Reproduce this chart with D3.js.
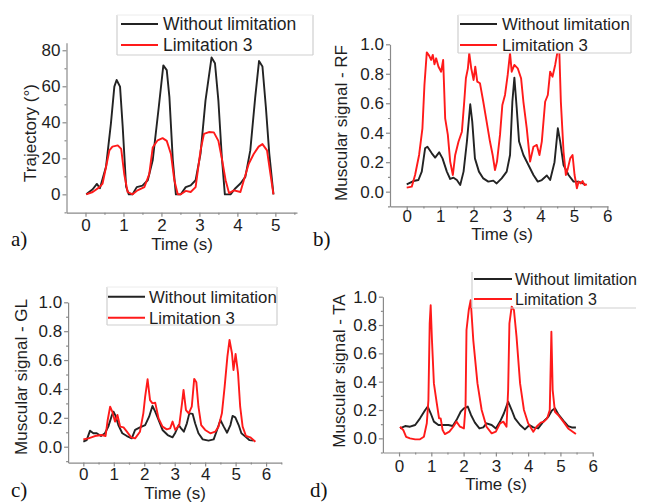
<!DOCTYPE html>
<html><head><meta charset="utf-8">
<script src="https://cdn.jsdelivr.net/npm/d3@7"></script>
<style>
body{margin:0;background:#fff;}
svg{display:block;font-family:Arial,"Liberation Sans",sans-serif;}
</style></head>
<body>
<svg id="chart" width="646" height="502"></svg>
<script>
// ---------- DATA ----------
const seriesNames = ["Without limitation", "Limitation 3"];

// Panel a: trajectory (deg)
const aTimeBlack = [0.02,0.19,0.30,0.38,0.54,0.67,0.76,0.82,0.91,0.98,1.07,1.14,1.24,1.35,1.50,1.64,1.77,1.93,2.05,2.14,2.21,2.30,2.38,2.51,2.64,2.77,2.90,3.03,3.16,3.32,3.41,3.50,3.59,3.67,3.82,3.95,4.08,4.21,4.34,4.47,4.57,4.66,4.75,4.84,4.95];
const aBlack     = [0,2.8,5.8,3.4,15.3,39.4,59.8,63.5,59.8,37.5,4.2,0,0,4,4.8,7.8,18.9,48.5,71.6,69,54,18.9,0,0,4,5,7.8,22.6,52,76,72.8,52,20.7,0,0,3.4,6,9.7,24.4,54,74,71,48.5,22.6,0];
const aTimeRed   = [0.02,0.19,0.37,0.45,0.54,0.63,0.71,0.85,0.94,1.02,1.11,1.24,1.37,1.55,1.68,1.77,1.90,2.03,2.14,2.25,2.34,2.43,2.51,2.64,2.77,2.90,3.03,3.12,3.25,3.38,3.50,3.60,3.69,3.78,3.91,4.08,4.17,4.30,4.43,4.56,4.66,4.78,4.87,4.95];
const aRed       = [0,1.3,4,6,15,24.4,26.5,27.2,25.2,11.3,1.3,0,2.2,4,11.3,26,30,31.2,29.7,22.4,7.8,0,0,1.9,1.3,4,24.4,33.6,34.6,34.4,29.7,18.9,7.8,0.7,2.2,1.3,7.8,17,22.4,26.5,27.9,24.4,11.3,0];

// Panel b: RF muscular signal
const bTimeBlack = [0.0,0.2,0.35,0.45,0.55,0.62,0.75,0.85,0.97,1.07,1.20,1.30,1.40,1.50,1.60,1.70,1.80,1.90,1.96,2.04,2.16,2.29,2.44,2.59,2.69,2.84,2.99,3.09,3.16,3.22,3.29,3.36,3.49,3.64,3.79,3.92,4.04,4.19,4.29,4.42,4.52,4.59,4.69,4.84,4.99,5.14,5.34];
const bBlack     = [0.05,0.072,0.079,0.136,0.294,0.305,0.26,0.231,0.267,0.226,0.136,0.086,0.095,0.079,0.045,0.136,0.34,0.593,0.475,0.226,0.136,0.09,0.068,0.075,0.056,0.09,0.136,0.249,0.61,0.774,0.566,0.34,0.249,0.181,0.113,0.068,0.079,0.11,0.079,0.2,0.43,0.34,0.181,0.113,0.068,0.068,0.05];
const bTimeRed   = [0.0,0.15,0.25,0.37,0.47,0.53,0.60,0.67,0.73,0.78,0.83,0.88,0.95,1.03,1.09,1.15,1.23,1.30,1.38,1.45,1.55,1.65,1.72,1.77,1.83,1.87,1.93,2.0,2.05,2.11,2.19,2.29,2.39,2.49,2.57,2.64,2.70,2.79,2.86,2.94,3.02,3.09,3.14,3.22,3.32,3.42,3.49,3.59,3.69,3.79,3.89,3.97,4.04,4.14,4.22,4.29,4.36,4.44,4.51,4.56,4.61,4.69,4.76,4.82,4.89,4.96,5.02,5.09,5.14,5.21,5.26,5.32,5.39];
const bRed       = [0.027,0.034,0.113,0.249,0.43,0.724,0.945,0.923,0.894,0.928,0.864,0.905,0.848,0.814,0.894,0.498,0.385,0.204,0.113,0.249,0.34,0.407,0.61,0.77,0.837,0.94,0.837,0.758,0.848,0.747,0.736,0.61,0.475,0.34,0.249,0.147,0.204,0.385,0.588,0.656,0.792,0.94,0.814,0.86,0.837,0.77,0.61,0.43,0.204,0.305,0.317,0.249,0.34,0.61,0.656,0.814,0.78,0.86,0.95,0.98,0.61,0.272,0.113,0.158,0.226,0.249,0.113,0.023,0.068,0.056,0.072,0.045,0.05];

// Panel c: GL muscular signal
const cTimeBlack = [0.0,0.11,0.22,0.33,0.44,0.58,0.71,0.82,0.93,0.99,1.06,1.15,1.28,1.43,1.59,1.70,1.86,2.03,2.16,2.27,2.36,2.47,2.60,2.77,2.93,3.02,3.13,3.21,3.30,3.40,3.48,3.59,3.67,3.78,3.92,4.11,4.28,4.39,4.50,4.61,4.72,4.83,4.90,4.99,5.10,5.19,5.32,5.45,5.59];
const cBlack     = [0.035,0.046,0.111,0.093,0.093,0.074,0.093,0.139,0.213,0.243,0.213,0.15,0.093,0.074,0.058,0.116,0.134,0.15,0.208,0.282,0.243,0.185,0.116,0.081,0.065,0.097,0.15,0.127,0.104,0.162,0.231,0.227,0.162,0.093,0.051,0.042,0.051,0.116,0.185,0.139,0.097,0.15,0.213,0.203,0.15,0.093,0.07,0.046,0.042];
const cTimeRed   = [0.0,0.17,0.38,0.60,0.73,0.80,0.88,0.95,1.04,1.12,1.21,1.32,1.43,1.57,1.70,1.86,1.97,2.03,2.11,2.19,2.27,2.36,2.47,2.60,2.74,2.85,2.93,3.02,3.15,3.24,3.29,3.37,3.46,3.56,3.64,3.71,3.78,3.87,4.00,4.17,4.33,4.44,4.55,4.64,4.73,4.80,4.88,4.93,5.00,5.08,5.15,5.23,5.34,5.48,5.65];
const cRed       = [0.051,0.058,0.074,0.081,0.074,0.185,0.277,0.243,0.174,0.22,0.139,0.134,0.104,0.065,0.058,0.104,0.231,0.347,0.467,0.323,0.3,0.305,0.196,0.139,0.12,0.127,0.174,0.116,0.15,0.3,0.393,0.254,0.231,0.277,0.47,0.447,0.277,0.15,0.116,0.093,0.104,0.139,0.231,0.416,0.624,0.739,0.647,0.531,0.642,0.508,0.277,0.139,0.074,0.065,0.035];

// Panel d: TA muscular signal
const dTimeBlack = [0.03,0.19,0.34,0.50,0.65,0.81,0.89,0.98,1.08,1.22,1.37,1.53,1.66,1.78,1.91,2.01,2.13,2.23,2.35,2.49,2.61,2.71,2.87,3.00,3.13,3.25,3.38,3.49,3.59,3.75,3.90,4.04,4.16,4.31,4.47,4.63,4.73,4.83,4.93,5.09,5.24,5.35,5.48];
const dBlack     = [0.07,0.087,0.082,0.094,0.141,0.2,0.224,0.177,0.118,0.094,0.094,0.094,0.087,0.129,0.188,0.212,0.224,0.165,0.111,0.07,0.077,0.106,0.094,0.07,0.118,0.177,0.259,0.2,0.141,0.094,0.063,0.094,0.077,0.07,0.118,0.153,0.195,0.212,0.172,0.125,0.087,0.077,0.077];
const dTimeRed   = [0.03,0.13,0.22,0.34,0.50,0.65,0.77,0.86,0.91,0.95,0.98,1.02,1.08,1.17,1.24,1.29,1.35,1.42,1.56,1.68,1.78,1.89,2.01,2.06,2.09,2.16,2.22,2.30,2.43,2.56,2.71,2.87,3.00,3.13,3.23,3.33,3.38,3.42,3.49,3.56,3.64,3.75,3.87,4.00,4.16,4.26,4.39,4.49,4.59,4.67,4.72,4.76,4.83,4.93,5.09,5.24,5.38,5.48];
const dRed       = [0.082,0.059,0.011,0.0,-0.007,-0.007,0.011,0.106,0.27,0.812,0.94,0.694,0.388,0.247,0.141,0.141,0.059,0.03,0.047,0.082,0.118,0.082,0.07,0.224,0.765,0.906,0.976,0.694,0.388,0.2,0.082,0.035,0.047,0.106,0.118,0.082,0.341,0.812,0.93,0.906,0.718,0.388,0.2,0.106,0.047,0.082,0.111,0.118,0.141,0.2,0.753,0.341,0.188,0.165,0.118,0.07,0.047,0.03];

// Tick labels
const xTicksA = [0,1,2,3,4,5];
const xTicks6 = [0,1,2,3,4,5,6];
const yTicksA = [0,20,40,60,80];
const yTicksSig = [0.0,0.2,0.4,0.6,0.8,1.0];

// ---------- LAYOUT ----------
const COLORS = ["#232323", "#ff1a1a"];
const AXIS_COLOR = "#8a8a8a";
const TEXT_COLOR = "#1e1e1e";

const panels = [
  { tb: aTimeBlack, vb: aBlack, tr: aTimeRed, vr: aRed,
    xd: [-0.5, 5.57], xr: [66.5, 297], yd: [-10.2, 84.2], yr: [212.7, 42.7],
    xt: xTicksA, xm: [0.5,1.5,2.5,3.5,4.5,5.5], yt: yTicksA, ym: [-10,10,30,50,70], yfmt: d3.format("d"),
    ylabel: "Trajectory (°)", ylx: 36, yly: 133, xlx: 182, xly: 250, xtb: 18,
    letter: "a)", lx: 11, ly: 246,
    leg: {x0: 117, x1: 313, y0: 15, y1: 55, r1: 24, r2: 45, s0: 121, s1: 158, tx: 163, fs: 17.5, fill: true, top: true} },
  { tb: bTimeBlack, vb: bBlack, tr: bTimeRed, vr: bRed,
    xd: [-0.5, 6.02], xr: [390, 608], yd: [-0.1, 1.0], yr: [206.4, 44.3],
    xt: xTicks6, xm: [0.5,1.5,2.5,3.5,4.5,5.5], yt: yTicksSig, ym: [-0.1,0.1,0.3,0.5,0.7,0.9], yfmt: d3.format(".1f"),
    ylabel: "Muscular signal - RF", ylx: 347, yly: 123, xlx: 502, xly: 240, xtb: 16,
    letter: "b)", lx: 313, ly: 246,
    leg: {x0: 458, x1: 631, y0: 15, y1: 53, r1: 24, r2: 45, s0: 460, s1: 497, tx: 502, fs: 16.8, fill: true, top: true} },
  { tb: cTimeBlack, vb: cBlack, tr: cTimeRed, vr: cRed,
    xd: [-0.5, 6.5], xr: [68.1, 281.3], yd: [-0.11, 1.0], yr: [462.6, 302.3],
    xt: xTicks6, xm: [0.5,1.5,2.5,3.5,4.5,5.5,6.5], yt: yTicksSig, ym: [-0.1,0.1,0.3,0.5,0.7,0.9], yfmt: d3.format(".1f"),
    ylabel: "Muscular signal - GL", ylx: 27, yly: 377, xlx: 175, xly: 499, xtb: 17,
    letter: "c)", lx: 11, ly: 497,
    leg: {x0: 107, x1: 277, y0: 287, y1: 325, r1: 296.7, r2: 317.7, s0: 108, s1: 145, tx: 149, fs: 16.8, fill: true, top: true} },
  { tb: dTimeBlack, vb: dBlack, tr: dTimeRed, vr: dRed,
    xd: [-0.5, 6.0], xr: [382.9, 592.7], yd: [-0.1, 1.0], yr: [452.5, 296.7],
    xt: xTicks6, xm: [0.5,1.5,2.5,3.5,4.5,5.5], yt: yTicksSig, ym: [-0.1,0.1,0.3,0.5,0.7,0.9], yfmt: d3.format(".1f"),
    ylabel: "Muscular signal - TA", ylx: 345, yly: 371, xlx: 496, xly: 490, xtb: 19,
    letter: "d)", lx: 310, ly: 497,
    leg: {x0: 472, x1: 636, y0: 272, y1: 308, r1: 279, r2: 299, s0: 474, s1: 512, tx: 515, fs: 16, fill: false, top: false} }
];

const svg = d3.select("#chart");

panels.forEach(p => {
  const x = d3.scaleLinear().domain(p.xd).range(p.xr);
  const y = d3.scaleLinear().domain(p.yd).range(p.yr);
  const g = svg.append("g");

  // Axes
  const xAxis = d3.axisBottom(x).tickValues(p.xt).tickSize(4).tickSizeOuter(0).tickFormat(d3.format("d"));
  const yAxis = d3.axisLeft(y).tickValues(p.yt).tickSize(4).tickSizeOuter(0).tickFormat(p.yfmt);
  const gx = g.append("g").attr("transform", `translate(0,${p.yr[0]})`).call(xAxis);
  const gy = g.append("g").attr("transform", `translate(${p.xr[0]},0)`).call(yAxis);
  g.append("g").attr("transform", `translate(0,${p.yr[0]})`)
    .call(d3.axisBottom(x).tickValues(p.xm.filter(v => v <= p.xd[1])).tickSize(2).tickSizeOuter(0).tickFormat(""))
    .select(".domain").remove();
  g.append("g").attr("transform", `translate(${p.xr[0]},0)`)
    .call(d3.axisLeft(y).tickValues(p.ym.filter(v => v >= p.yd[0])).tickSize(2).tickSizeOuter(0).tickFormat(""))
    .select(".domain").remove();
  g.selectAll(".domain").attr("stroke", AXIS_COLOR).attr("stroke-width", 1.2);
  g.selectAll(".tick line").attr("stroke", AXIS_COLOR).attr("stroke-width", 1.2);
  gx.selectAll(".tick text").attr("font-size", 17).attr("fill", TEXT_COLOR).attr("dy", null).attr("y", p.xtb)
    .attr("font-family", "Arial, 'Liberation Sans', sans-serif");
  gy.selectAll(".tick text").attr("font-size", 17).attr("fill", TEXT_COLOR).attr("x", -6)
    .attr("font-family", "Arial, 'Liberation Sans', sans-serif");

  // Lines
  const line = d3.line().x(d => x(d[0])).y(d => y(d[1]));
  const black = p.tb.map((t, i) => [t, p.vb[i]]);
  const red = p.tr.map((t, i) => [t, p.vr[i]]);
  g.append("path").datum(black).attr("d", line).attr("fill", "none")
    .attr("stroke", COLORS[0]).attr("stroke-width", 1.9).attr("stroke-linejoin", "round");
  g.append("path").datum(red).attr("d", line).attr("fill", "none")
    .attr("stroke", COLORS[1]).attr("stroke-width", 1.9).attr("stroke-linejoin", "round");

  // Axis titles
  g.append("text").attr("transform", `translate(${p.ylx},${p.yly}) rotate(-90)`)
    .attr("text-anchor", "middle").attr("font-size", 17).attr("fill", TEXT_COLOR).text(p.ylabel);
  g.append("text").attr("x", p.xlx).attr("y", p.xly)
    .attr("text-anchor", "middle").attr("font-size", 17).attr("fill", TEXT_COLOR).text("Time (s)");
  g.append("text").attr("x", p.lx).attr("y", p.ly)
    .attr("font-family", "'Liberation Serif','Times New Roman',serif").attr("font-size", 21).attr("fill", "#111").text(p.letter);

  // Legend
  const L = p.leg;
  const lg = g.append("g");
  if (L.fill) lg.append("rect").attr("x", L.x0).attr("y", L.y0).attr("width", L.x1 - L.x0).attr("height", L.y1 - L.y0).attr("fill", "#fff");
  const bc = "#cfcfcf";
  lg.append("line").attr("x1", L.x0).attr("x2", L.x0).attr("y1", L.y0).attr("y2", L.y1).attr("stroke", bc).attr("stroke-width", 1.2);
  lg.append("line").attr("x1", L.x0).attr("x2", L.x1).attr("y1", L.y1).attr("y2", L.y1).attr("stroke", bc).attr("stroke-width", 1.2);
  if (L.top) {
    lg.append("line").attr("x1", L.x1).attr("x2", L.x1).attr("y1", L.y0).attr("y2", L.y1).attr("stroke", bc).attr("stroke-width", 1.2);
    lg.append("line").attr("x1", L.x0).attr("x2", L.x1).attr("y1", L.y0).attr("y2", L.y0).attr("stroke", "#ececec").attr("stroke-width", 1);
  }
  [L.r1, L.r2].forEach((ry, i) => {
    lg.append("line").attr("x1", L.s0).attr("x2", L.s1).attr("y1", ry).attr("y2", ry)
      .attr("stroke", COLORS[i]).attr("stroke-width", 1.9);
    lg.append("text").attr("x", L.tx).attr("y", ry + 6).attr("font-size", L.fs).attr("fill", TEXT_COLOR).text(seriesNames[i]);
  });
});
</script>
</body></html>
